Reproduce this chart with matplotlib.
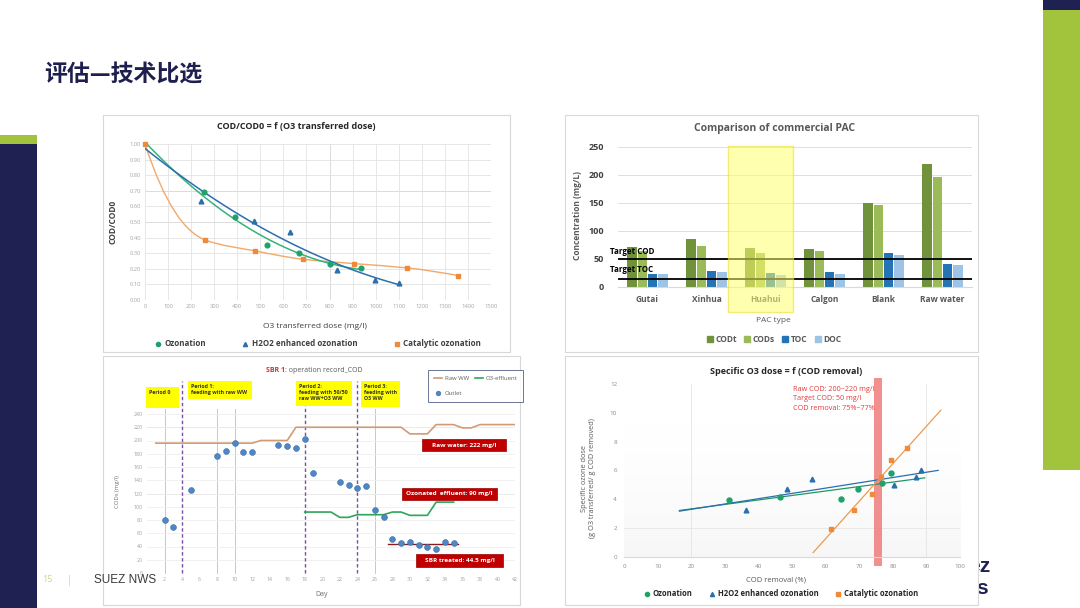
import numpy as np
import matplotlib
matplotlib.use("Agg")
import matplotlib.pyplot as plt
from matplotlib.patches import Rectangle, PathPatch
from matplotlib.path import Path
from matplotlib.lines import Line2D

plt.rcParams['font.family'] = ['Open Sans', 'Noto Sans CJK SC', 'DejaVu Sans']

W, H = 1080, 608

# --- chart 1: COD/COD0 vs O3 transferred dose
c1_oz_x = [0, 255, 390, 527, 667, 802, 937]
c1_oz_y = [1.00, 0.69, 0.535, 0.353, 0.304, 0.231, 0.203]
c1_h2_x = [0, 242, 473, 628, 831, 998, 1102]
c1_h2_y = [1.00, 0.632, 0.507, 0.439, 0.19, 0.131, 0.11]
c1_cat_x = [0, 261, 476, 686, 908, 1135, 1359]
c1_cat_y = [1.00, 0.385, 0.315, 0.261, 0.233, 0.206, 0.156]

# --- chart 2: commercial PAC
pac_types = ['Gutai', 'Xinhua', 'Huahui', 'Calgon', 'Blank', 'Raw water']
codt = [71, 85, 69, 67, 150, 220]
cods = [64, 74, 61, 64, 146, 197]
toc = [24, 29, 25, 27, 60, 41]
doc = [23, 27, 22, 23, 58, 40]
target_cod = 50
target_toc = 15

# --- chart 3: SBR operation record
out_days = [2, 3, 5, 8, 9, 10, 11, 12, 15, 16, 17, 18, 19, 22, 23, 24, 25, 26, 27,
            28, 29, 30, 31, 32, 33, 34, 35]
outlet = [80, 69, 125, 177, 184, 196, 183, 182, 193, 192, 188, 202, 151, 138, 133, 128,
          131, 95, 84, 52, 45, 47, 42, 39, 36, 47, 45]
raw_days = [1, 12, 13, 16, 17, 29, 30, 32, 33, 35, 36, 37, 38, 42]
raw_ww = [196, 196, 200, 200, 220, 220, 210, 210, 224, 224, 219, 219, 224, 224]
o3_days = [18, 21, 22, 23, 24, 27, 28, 29, 30, 32, 33, 35]
o3_eff = [92, 92, 84, 84, 88, 88, 92, 92, 87, 87, 107, 107]
sbr_days = [27.5, 35.5]
sbr_treated = [44.5, 44.5]
period_days = [4, 18, 24]
grid_days = [2, 8, 10, 26]

# --- chart 4: specific O3 dose vs COD removal
c4_oz_x = [31.3, 46.4, 64.5, 69.5, 76.9, 79.4]
c4_oz_y = [3.95, 4.14, 4.02, 4.69, 5.11, 5.80]
c4_h2_x = [36.4, 48.5, 56.0, 80.4, 86.8, 88.4]
c4_h2_y = [3.24, 4.69, 5.43, 5.02, 5.57, 6.06]
c4_cat_x = [61.5, 68.5, 73.7, 76.5, 79.5, 84.1]
c4_cat_y = [1.97, 3.24, 4.37, 5.53, 6.71, 7.58]
c4_oz_rng = [16.5, 89.5]
c4_h2_rng = [16.5, 93.5]
c4_cat_rng = [56.3, 94.3]
removal_band = [74.5, 76.7]

GREEN = '#22a06b'
BLUE = '#2a6fae'
ORANGE = '#ee8a3c'

fig = plt.figure(figsize=(10.8, 6.08), dpi=100)
fig.patch.set_facecolor('white')


def fbox(x0, y0, x1, y1):
    return [x0 / W, 1 - y1 / H, (x1 - x0) / W, (y1 - y0) / H]


def frect(x0, y0, x1, y1, **kw):
    r = Rectangle((x0 / W, 1 - y1 / H), (x1 - x0) / W, (y1 - y0) / H,
                  transform=fig.transFigure, **kw)
    fig.add_artist(r)
    return r


def ftext(x, y, s, **kw):
    return fig.text(x / W, 1 - y / H, s, **kw)


def pchip_path(xs, ys, start_slope=None):
    # monotone cubic (Fritsch-Carlson) drawn as bezier segments
    x = np.asarray(xs, float)
    y = np.asarray(ys, float)
    h = np.diff(x)
    d = np.diff(y) / h
    n = len(x)
    m = np.zeros(n)
    for i in range(1, n - 1):
        if d[i - 1] * d[i] > 0:
            w1 = 2 * h[i] + h[i - 1]
            w2 = h[i] + 2 * h[i - 1]
            m[i] = (w1 + w2) / (w1 / d[i - 1] + w2 / d[i])
    m[0] = ((2 * h[0] + h[1]) * d[0] - h[0] * d[1]) / (h[0] + h[1])
    m[-1] = ((2 * h[-1] + h[-2]) * d[-1] - h[-1] * d[-2]) / (h[-1] + h[-2])
    if start_slope is not None:
        m[0] = start_slope
    verts = [(x[0], y[0])]
    codes = [Path.MOVETO]
    for i in range(n - 1):
        verts += [(x[i] + h[i] / 3, y[i] + m[i] * h[i] / 3),
                  (x[i + 1] - h[i] / 3, y[i + 1] - m[i + 1] * h[i] / 3),
                  (x[i + 1], y[i + 1])]
        codes += [Path.CURVE4] * 3
    return Path(verts, codes)


def clean(ax):
    for s in ax.spines.values():
        s.set_visible(False)
    ax.tick_params(length=0)


# slide frame
frect(0, 143, 37, 608, fc='#1f2152', ec='none', zorder=-3)
frect(0, 135, 37, 144, fc='#a2c43c', ec='none', zorder=-3)
frect(1043, 0, 1080, 10, fc='#1f2152', ec='none', zorder=-3)
frect(1043, 10, 1080, 470, fc='#a2c43c', ec='none', zorder=-3)
ftext(968, 566, 'ez', fontsize=15, fontweight='bold', color='#1f2152', va='center',
      family=['Liberation Sans'], zorder=-2)
ftext(976, 588, 's', fontsize=15, fontweight='bold', color='#1f2152', va='center',
      family=['Liberation Sans'], zorder=-2)
for b in [(103, 115, 510, 352), (565, 115, 978, 352), (103, 356, 520, 605), (565, 356, 978, 605)]:
    frect(*b, fc='white', ec='#d8d8d8', lw=0.8, zorder=-1)

ftext(44, 75, '评估—技术比选', fontsize=16.5, fontweight='bold', color='#1f1f4f', va='center',
      family=['Noto Sans CJK SC', 'DejaVu Sans'])
ftext(42, 580, '15', fontsize=6.5, color='#c8d68e', va='center')
ftext(67, 580, '|', fontsize=7, color='#c8d68e', va='center')

# ---------------- chart 1
ax1 = fig.add_axes(fbox(145, 144, 491, 300))
ax1.set_xlim(0, 1500)
ax1.set_ylim(0, 1.0)
ax1.set_xticks(range(0, 1501, 100))
ax1.set_yticks(np.arange(0, 1.001, 0.1))
ax1.set_yticklabels(['%.2f' % v for v in np.arange(0, 1.001, 0.1)])
ax1.grid(color='#e3e3e3', lw=0.6)
ax1.set_axisbelow(True)
for v in [0.7, 0.5]:
    ax1.axhline(v, color='#b0b0b0', lw=0.6, zorder=0.5)
ax1.axvline(800, color='#b0b0b0', lw=0.6, zorder=0.5)
clean(ax1)
ax1.tick_params(labelsize=4.2, labelcolor='#a8a8a8', pad=3)

xs = np.linspace(0, max(c1_oz_x), 120)
ax1.plot(xs, np.polyval(np.polyfit(c1_oz_x, c1_oz_y, 2), xs), color='#35b27a', lw=1.1)
xs = np.linspace(0, max(c1_h2_x), 120)
ax1.plot(xs, np.polyval(np.polyfit(c1_h2_x, c1_h2_y, 2), xs), color=BLUE, lw=1.1)
ax1.add_patch(PathPatch(pchip_path(c1_cat_x, c1_cat_y, start_slope=-0.0045),
                        fc='none', ec='#f2a86a', lw=1.0))
ax1.plot(c1_oz_x[1:], c1_oz_y[1:], 'o', color=GREEN, ms=3.4, clip_on=False)
ax1.plot(c1_h2_x[1:], c1_h2_y[1:], '^', color=BLUE, ms=3.4, clip_on=False)
ax1.plot(c1_cat_x, c1_cat_y, 's', color=ORANGE, ms=3.2, clip_on=False)

ftext(296, 127, 'COD/COD0 = f (O3 transferred dose)', fontsize=6.5, fontweight='bold',
      color='#262626', ha='center', va='center')
ftext(315, 327, 'O3 transferred dose (mg/l)', fontsize=6, color='#404040', ha='center', va='center')
ftext(113, 222, 'COD/COD0', fontsize=6, fontweight='bold', color='#404040', rotation=90,
      ha='center', va='center')
h1 = [Line2D([], [], marker='o', ls='none', color=GREEN, ms=3),
      Line2D([], [], marker='^', ls='none', color=BLUE, ms=3),
      Line2D([], [], marker='s', ls='none', color=ORANGE, ms=3)]
leg = ax1.legend(h1, ['Ozonation', 'H2O2 enhanced ozonation', 'Catalytic ozonation'],
                 loc='center', bbox_to_anchor=(318 / W, 1 - 344 / H), bbox_transform=fig.transFigure,
                 ncol=3, frameon=False, handlelength=0.8, handletextpad=0.4, columnspacing=4.5,
                 prop={'size': 5.8, 'weight': 'bold'})
for t in leg.get_texts():
    t.set_color('#404040')

# ---------------- chart 2
ax2 = fig.add_axes(fbox(618, 147, 972, 287))
xpos = np.arange(len(pac_types))
step = 0.175
bw = 0.16
for k, (vals, col) in enumerate([(codt, '#70923a'), (cods, '#9bbb59'), (toc, '#2474b5'), (doc, '#9dc3e6')]):
    ax2.bar(xpos + (k - 1.5) * step, vals, width=bw, color=col, zorder=2)
ax2.set_xlim(-0.5, 5.5)
ax2.set_ylim(0, 250)
ax2.set_yticks(range(0, 251, 50))
ax2.grid(axis='y', color='#d9d9d9', lw=0.6)
ax2.set_axisbelow(True)
clean(ax2)
ax2.spines['bottom'].set_visible(True)
ax2.spines['bottom'].set_color('#d9d9d9')
ax2.set_xticks(xpos)
ax2.set_xticklabels(pac_types)
ax2.tick_params(axis='y', labelsize=6.5, labelcolor='#404040', pad=10)
ax2.tick_params(axis='x', labelsize=6, labelcolor='#595959', pad=6)
for t in ax2.get_xticklabels() + ax2.get_yticklabels():
    t.set_fontweight('bold')
ax2.axhline(target_cod, color='black', lw=1.3, zorder=3)
ax2.axhline(target_toc, color='black', lw=1.3, zorder=3)
ax2.text(-0.63, 64, 'Target COD', fontsize=5.8, fontweight='bold', va='center', zorder=4)
ax2.text(-0.63, 32, 'Target TOC', fontsize=5.8, fontweight='bold', va='center', zorder=4)
ax2.add_patch(Rectangle((1.36, -45), 1.1, 296, fc='#ffff70', alpha=0.55, ec='#eedc20', lw=1.0,
                        clip_on=False, zorder=5))
ftext(775, 129, 'Comparison of commercial PAC', fontsize=7.5, fontweight='bold', color='#595959',
      ha='center', va='center')
ftext(578, 215, 'Concentration (mg/L)', fontsize=6, fontweight='bold', color='#595959', rotation=90,
      ha='center', va='center')
ftext(773, 320, 'PAC type', fontsize=6, color='#595959', ha='center', va='center')
h2 = [Line2D([], [], marker='s', ls='none', color=c, ms=4)
      for c in ['#70923a', '#9bbb59', '#2474b5', '#9dc3e6']]
leg = ax2.legend(h2, ['CODt', 'CODs', 'TOC', 'DOC'], loc='center',
                 bbox_to_anchor=(774 / W, 1 - 339 / H), bbox_transform=fig.transFigure,
                 ncol=4, frameon=False, handlelength=0.7, handletextpad=0.3, columnspacing=0.9,
                 prop={'size': 6, 'weight': 'bold'})
for t in leg.get_texts():
    t.set_color('#595959')

# ---------------- chart 3
ax3 = fig.add_axes(fbox(147, 414, 515, 573))
ax3.set_xlim(0, 42)
ax3.set_ylim(0, 240)
ax3.set_xticks(range(2, 43, 2))
ax3.set_yticks(range(0, 241, 20))
ax3.grid(axis='y', color='#efefef', lw=0.6)
ax3.set_axisbelow(True)
for v in [220, 120]:
    ax3.axhline(v, color='#cfcfcf', lw=0.6, zorder=0.5)
for d in grid_days:
    ax3.axvline(d, color='#c8c8c8', lw=0.7, zorder=0.5, ymax=1.03, clip_on=False)
clean(ax3)
ax3.tick_params(labelsize=3.8, labelcolor='#a0a0a0', pad=3)
for d in period_days:
    ax3.axvline(d, color='#7a4fa5', lw=1.0, ls=(0, (2.5, 1.8)), zorder=1, ymax=1.21, clip_on=False)
l_raw, = ax3.plot(raw_days, raw_ww, color='#d49a74', lw=1.2, zorder=2)
l_o3, = ax3.plot(o3_days, o3_eff, color='#2ea55a', lw=1.2, zorder=2)
ax3.plot(sbr_days, sbr_treated, color='#8b1c1c', lw=1.0, zorder=2)
l_out, = ax3.plot(out_days, outlet, 'o', ms=4.2, mfc='#4f86c6', mec='#3a6ea5', mew=0.4, ls='none',
                  zorder=3)
leg = ax3.legend([l_raw, l_out, l_o3], ['Raw WW', 'Outlet', 'O3-effluent'], loc='upper left',
                 bbox_to_anchor=(425 / W, 1 - 367 / H), bbox_transform=fig.transFigure, ncol=2,
                 fancybox=False, edgecolor='#44557a', fontsize=4.3, handlelength=1.3,
                 handletextpad=0.5, columnspacing=1.0, labelspacing=1.7, borderpad=1.0,
                 markerscale=0.8)
leg.get_frame().set_linewidth(0.7)
for t in leg.get_texts():
    t.set_color('#606060')

ftext(285, 371, 'SBR 1', fontsize=5, color='#d03030', fontweight='bold', ha='right', va='center')
ftext(285, 371, ': operation record_COD', fontsize=5, color='#595959', ha='left', va='center')
ftext(118, 492, 'CODs (mg/l)', fontsize=4.2, color='#707070', rotation=90, ha='center', va='center')
ftext(322, 595, 'Day', fontsize=5, color='#707070', ha='center', va='center')

yellow_boxes = [((146, 387, 179, 408), 'Period 0'),
                ((188, 381, 252, 399), 'Period 1:\nfeeding with raw WW'),
                ((296, 381, 352, 406), 'Period 2:\nfeeding with 50/50\nraw WW+O3 WW'),
                ((361, 381, 400, 407), 'Period 3:\nfeeding with\nO3 WW')]
for (x0, y0, x1, y1), s in yellow_boxes:
    frect(x0, y0, x1, y1, fc='#ffff00', ec='none', zorder=4)
    ftext(x0 + 3, y0 + 3, s, fontsize=3.8, fontweight='bold', color='#333322', ha='left',
          va='top', linespacing=1.25, zorder=5)
red_boxes = [((422, 439, 506, 451), 'Raw water: 222 mg/l'),
             ((402, 488, 497, 500), 'Ozonated  effluent: 90 mg/l'),
             ((416, 554, 503, 567), 'SBR treated: 44.5 mg/l')]
for (x0, y0, x1, y1), s in red_boxes:
    frect(x0, y0, x1, y1, fc='#c00000', ec='#9a0000', lw=0.5, zorder=4)
    ftext((x0 + x1) / 2, (y0 + y1) / 2, s, fontsize=4.6, fontweight='bold', color='white',
          ha='center', va='center', zorder=5)

ftext(94, 580, 'SUEZ NWS', fontsize=8.5, color='#3a3a3a', va='center',
      family=['Liberation Sans'], zorder=6)

# ---------------- chart 4
ax4 = fig.add_axes(fbox(624, 384, 960, 557))
ax4.set_xlim(0, 100)
ax4.set_ylim(0, 12)
ax4.set_xticks(range(0, 101, 10))
ax4.set_yticks(range(0, 13, 2))
grad = np.linspace(0, 1, 100)[:, None] ** 2
ax4.imshow(grad, extent=[0, 100, 0, 12], aspect='auto', cmap='Greys', vmin=0, vmax=14,
           origin='upper', zorder=0)
for v in [20, 90]:
    ax4.axvline(v, color='#e4e4e4', lw=0.6, zorder=0.5)
ax4.axhline(2, color='#e4e4e4', lw=0.6, zorder=0.5)
clean(ax4)
ax4.spines['bottom'].set_visible(True)
ax4.spines['bottom'].set_color('#d9d9d9')
ax4.tick_params(labelsize=4.5, labelcolor='#8c8c8c', pad=5)
ax4.add_patch(Rectangle((removal_band[0], -0.65), removal_band[1] - removal_band[0], 13.05,
                        fc='#f07b7b', alpha=0.85, ec='none', clip_on=False, zorder=1.5))
for xv, yv, rng, col in [(c4_oz_x, c4_oz_y, c4_oz_rng, '#1f9a66'),
                         (c4_h2_x, c4_h2_y, c4_h2_rng, BLUE),
                         (c4_cat_x, c4_cat_y, c4_cat_rng, '#ee9a50')]:
    xs = np.array(rng)
    ax4.plot(xs, np.polyval(np.polyfit(xv, yv, 1), xs), color=col, lw=0.9, zorder=2)
ax4.plot(c4_oz_x, c4_oz_y, 'o', color=GREEN, ms=3.6, zorder=3)
ax4.plot(c4_h2_x, c4_h2_y, '^', color=BLUE, ms=3.4, zorder=3)
ax4.plot(c4_cat_x, c4_cat_y, 's', color=ORANGE, ms=3.4, zorder=3)
ax4.text(50.2, 11.85, 'Raw COD: 200~220 mg/l\nTarget COD: 50 mg/l\nCOD removal: 75%~77%',
         fontsize=5.2, color='#e43a3a', va='top', ha='left', linespacing=1.45, zorder=4)
ftext(786, 371, 'Specific O3 dose = f (COD removal)', fontsize=6.5, fontweight='bold',
      color='#262626', ha='center', va='center')
ftext(588, 478, 'Specific ozone dose\n(g O3 transferred/ g COD removed)', fontsize=5.3,
      color='#595959', rotation=90, ha='center', va='center', multialignment='center')
ftext(776, 580, 'COD removal (%)', fontsize=5.5, color='#595959', ha='center', va='center')
leg = ax4.legend(h1, ['Ozonation', 'H2O2 enhanced ozonation', 'Catalytic ozonation'],
                 loc='center', bbox_to_anchor=(781 / W, 1 - 594 / H), bbox_transform=fig.transFigure,
                 ncol=3, frameon=False, handlelength=0.8, handletextpad=0.3, columnspacing=2.2,
                 prop={'size': 5.5, 'weight': 'bold'})
for t in leg.get_texts():
    t.set_color('#262626')

fig.savefig('out.png', dpi=100)
